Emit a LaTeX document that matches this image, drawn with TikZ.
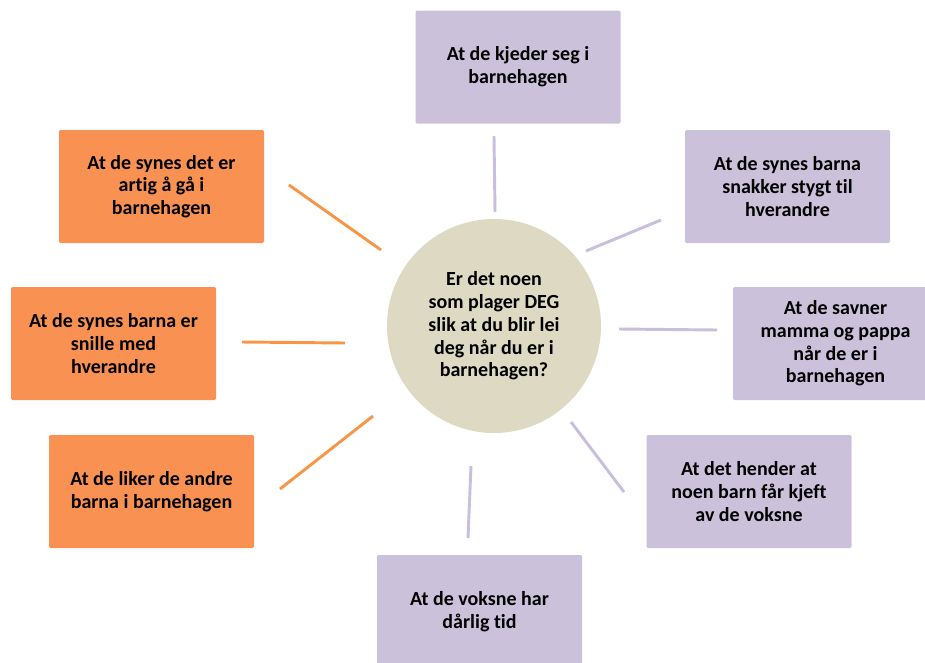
\documentclass[tikz,border=0pt]{standalone}
\usepackage{fontspec}
\setmainfont{Carlito}[RawFeature=-liga]
\usepackage{xcolor}
\usetikzlibrary{positioning}
\definecolor{boxorange}{RGB}{249,145,82}
\definecolor{boxlilac}{RGB}{204,193,218}
\definecolor{linorange}{RGB}{247,150,70}
\definecolor{linlilac}{RGB}{201,190,219}
\definecolor{midtan}{RGB}{221,217,195}
\tikzset{
	txt/.style={font=\bfseries\fontsize{15}{17}\selectfont, align=center, text=black},
	svar/.style={txt, minimum width=153.75pt, minimum height=84.75pt,
		inner sep=0pt, rounded corners=1pt},
	posbox/.style={svar, fill=boxorange},
	negbox/.style={svar, fill=boxlilac},
	midt/.style={txt, circle, fill=midtan, minimum size=160.5pt, inner sep=0pt},
	strek/.style={line width=2.2pt},
	posline/.style={strek, draw=linorange},
	negline/.style={strek, draw=linlilac},
}

\begin{document}
\begin{tikzpicture}[x=0.75pt, y=-0.75pt]
	\useasboundingbox (0,0) rectangle (925,662);
	
	% ------------------- Centre question -------------------
	\node[midt] (sporsmal) at (494,326) {Er det noen\\som plager DEG\\slik at du blir lei\\deg når du er i\\barnehagen?};
	
	% ------------------- Lilac boxes (right side) -------------------
	\node[negbox] (kjeder) at (518,67) {At de kjeder seg i\\barnehagen};
	\node[negbox] (stygt) at (787.5,186.5) {At de synes barna\\snakker stygt til\\hverandre};
	\node[negbox] (savner) at (835.5,343.5) {At de savner\\mamma og pappa\\når de er i\\barnehagen};
	\node[negbox] (kjeft) at (749,491.5) {At det hender at\\noen barn får kjeft\\av de voksne};
	\node[negbox] (travel) at (479.5,611.5) {At de voksne har\\dårlig tid};
	
	% ------------------- Orange boxes (left side) -------------------
	\node[posbox] (artig) at (161.5,186.5) {At de synes det er\\artig å gå i\\barnehagen};
	\node[posbox] (snille) at (113.5,343.5) {At de synes barna er\\snille med\\hverandre};
	\node[posbox] (liker) at (151.5,491.5) {At de liker de andre\\barna i barnehagen};
	
	% ------------------- Spokes (free ends) -------------------
	\coordinate (kjederA) at (494,136);  \coordinate (kjederB) at (495,212);
	\coordinate (stygtA) at (586,251);   \coordinate (stygtB) at (661,220);
	\coordinate (savnerA) at (619,329);  \coordinate (savnerB) at (717,330);
	\coordinate (kjeftA) at (571,422);   \coordinate (kjeftB) at (624,492);
	\coordinate (travelA) at (471,466);  \coordinate (travelB) at (468,538);
	\coordinate (artigA) at (381,250);   \coordinate (artigB) at (289,185);
	\coordinate (snilleA) at (345,343);  \coordinate (snilleB) at (242,342);
	\coordinate (likerA) at (373,416);   \coordinate (likerB) at (280,489);
	
	\draw[negline] (kjederA) -- (kjederB);
	\draw[negline] (stygtA) -- (stygtB);
	\draw[negline] (savnerA) -- (savnerB);
	\draw[negline] (kjeftA) -- (kjeftB);
	\draw[negline] (travelA) -- (travelB);
	\draw[posline] (artigA) -- (artigB);
	\draw[posline] (snilleA) -- (snilleB);
	\draw[posline] (likerA) -- (likerB);
	
\end{tikzpicture}
\end{document}
